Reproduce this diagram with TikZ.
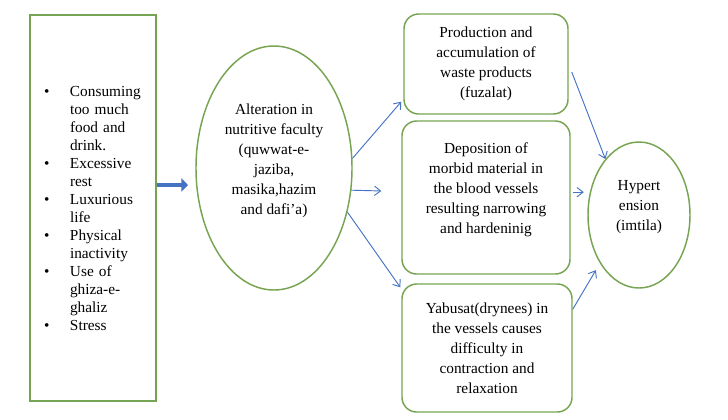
\documentclass[tikz,border=0pt]{standalone}
\usepackage{fontspec}
\setmainfont{Liberation Serif}[Ligatures=TeX]
\newfontfamily\timesfont{Liberation Serif}
\usepackage{tikz}
\usetikzlibrary{shapes.geometric, arrows.meta}
\definecolor{boxGreen}{HTML}{77A452}
\definecolor{arrowBlue}{HTML}{4472C4}

\tikzset{
  box/.style={draw=boxGreen, line width=1.1pt, rounded corners=11pt, align=center, font=\timesfont\fontsize{11.5}{15}\selectfont},
  oval/.style={draw=boxGreen, line width=1.1pt, ellipse, inner sep=0pt},
  txt/.style={align=center, font=\timesfont\fontsize{11.5}{15}\selectfont},
  link/.style={draw=arrowBlue, line width=0.7pt, -{Straight Barb[length=4.5pt,width=7pt]}},
  fat/.style={draw=arrowBlue, line width=3.5pt, -{Triangle[length=5pt,width=10pt]}}
}
\newcommand{\itm}{\makebox[19.5pt][l]{\textbullet}}
\newcommand{\cnt}{\hspace*{19.5pt}}

\begin{document}
\begin{tikzpicture}[x=0.75pt, y=-0.75pt]
    \useasboundingbox (0,0) rectangle (728,419);
    % causes
    \node[draw=boxGreen, line width=2pt, minimum width=94.5pt, minimum height=289.5pt,
          inner xsep=10.5pt, text width=73.5pt, align=left,
          font=\timesfont\fontsize{11.5}{13.5}\selectfont] (causes) at (93,208)
        {\itm Consuming\\ \cnt too much\\ \cnt food and\\ \cnt drink.\\
         \itm Excessive\\ \cnt rest\\
         \itm Luxurious\\ \cnt life\\
         \itm Physical\\ \cnt inactivity\\
         \itm Use of\\ \cnt ghiza-e-\\ \cnt ghaliz\\
         \itm Stress};
    % faculty
    \node[oval, minimum width=117pt, minimum height=183pt] (alt) at (274,168) {};
    \node[txt] (alttext) at ([yshift=5.25pt]alt.center)
        {Alteration in\\ nutritive faculty\\ (quwwat-e-\\ jaziba,\\ masika,hazim\\ and dafi’a)};
    % results
    \node[box, minimum width=123pt, minimum height=75pt] (waste) at (486,64)
        {Production and\\ accumulation of\\ waste products\\ (fuzalat)};
    \node[box, minimum width=126pt, minimum height=114.75pt] (depo) at (486,197.5) {};
    \node[txt] (depotext) at ([yshift=6pt]depo.center)
        {Deposition of\\ morbid material in\\ the blood vessels\\ resulting narrowing\\ and hardeninig};
    \node[box, minimum width=127.5pt, minimum height=96pt] (dry) at (487,348)
        {Yabusat(drynees) in\\ the vessels causes\\ difficulty in\\ contraction and\\ relaxation};
    % outcome
    \node[oval, minimum width=76.5pt, minimum height=109.5pt] (hyp) at (639,215) {};
    \node[txt] (hyptext) at ([yshift=6pt]hyp.center) {Hypert\\ ension\\ (imtila)};

    \coordinate (fattip) at (188,185);
    \draw[fat] (causes.east |- fattip) -- (fattip);
    \draw[link] (alt.7) -- ([xshift=-1.5pt,yshift=9.75pt]waste.south west);
    \draw[link] (alt.-16) -- ([xshift=-15pt,yshift=4.9pt]depo.west);
    \draw[link] (alt.-31) -- ([xshift=-0.75pt,yshift=-3pt]dry.north west);
    \draw[link] ([xshift=2.25pt,yshift=-6pt]waste.east) -- (hyp.121);
    \draw[link] ([xshift=1.5pt,yshift=4pt]depo.east) -- ([xshift=9.75pt,yshift=4pt]depo.east);
    \draw[link, shorten >=6pt] ([yshift=-19.5pt]dry.north east) -- (hyp.-129);
\end{tikzpicture}
\end{document}
